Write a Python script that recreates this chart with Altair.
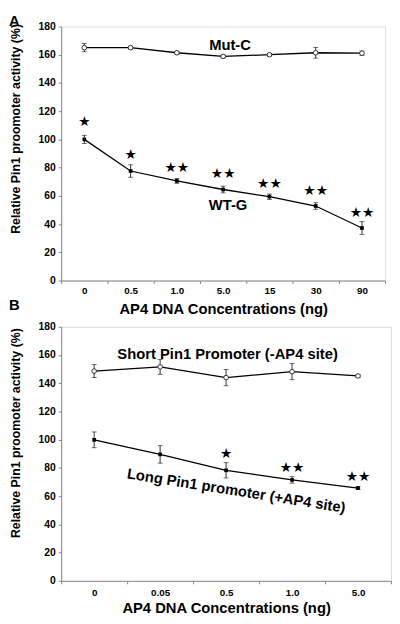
import altair as alt
import pandas as pd

# ---------------- Panel A data ----------------
conc_a = ["0", "0.5", "1.0", "5.0", "15", "30", "90"]
mutc = [165.0, 165.0, 161.4, 158.8, 160.0, 161.4, 161.1]
mutc_err = [2.9, 1.0, 1.0, 1.0, 1.0, 3.8, 1.5]
wtg = [100.0, 77.6, 70.6, 64.5, 59.4, 52.8, 37.2]
wtg_err = [2.9, 4.4, 1.7, 2.4, 1.9, 2.3, 4.5]
stars_a = ["★", "★", "★★", "★★", "★★", "★★", "★★"]
stars_a_y = [112.5, 89.0, 80.0, 75.3, 68.5, 63.7, 48.0]

# ---------------- Panel B data ----------------
conc_b = ["0", "0.05", "0.5", "1.0", "5.0"]
short_p = [148.6, 151.6, 144.0, 148.2, 145.2]
short_err = [4.6, 5.2, 5.8, 5.7, 1.0]
long_p = [99.9, 89.6, 78.3, 71.5, 65.7]
long_err = [5.6, 6.2, 5.4, 2.3, 1.0]
stars_b = ["★", "★★", "★★"]
stars_b_conc = ["0.5", "1.0", "5.0"]
stars_b_y = [89.5, 79.8, 73.5]

X_TITLE = "AP4 DNA Concentrations (ng)"
Y_TITLE = "Relative Pin1 proomoter activity (%)"
FONT = "Liberation Sans"


def series_df(conc, name, vals, errs):
    return pd.DataFrame({
        "conc": conc,
        "series": name,
        "value": vals,
        "lo": [v - e for v, e in zip(vals, errs)],
        "hi": [v + e for v, e in zip(vals, errs)],
    })


def panel(conc, top_df, bot_df, stars_df, labels_df, width, label_pad, title_pad, title_y, extra_letters):
    x = alt.X(
        "conc:N", sort=conc, bandPosition=0.5,
        scale=alt.Scale(type="band", paddingInner=0, paddingOuter=0),
        axis=alt.Axis(title=X_TITLE, labelAngle=0, tickBand="extent", tickSize=3,
                      labelPadding=label_pad, titlePadding=title_pad,
                      labelFontSize=10, labelFontWeight="bold", labelFont=FONT,
                      titleFontSize=15, titleFontWeight="bold", titleFont=FONT,
                      domainColor="#888", tickColor="#888", labelColor="black",
                      titleColor="black"),
    )
    yscale = alt.Scale(domain=[0, 180], nice=False, zero=True)
    yaxis = alt.Axis(title=Y_TITLE, values=list(range(0, 181, 20)), grid=False,
                     tickSize=3, labelPadding=3, titlePadding=16,
                     labelFontSize=10.5, labelFontWeight="bold", labelFont=FONT,
                     titleFontSize=12.5, titleFontWeight="bold", titleFont=FONT,
                     titleY=title_y, domainColor="#888", tickColor="#888",
                     labelColor="black", titleColor="black")
    both = pd.concat([top_df, bot_df])
    base = alt.Chart(both)
    line = base.mark_line(color="black", strokeWidth=1.3).encode(
        x=x, y=alt.Y("value:Q", scale=yscale, axis=yaxis), detail="series:N")
    rule = base.mark_rule(color="black", strokeWidth=0.8).encode(
        x=x, y=alt.Y("lo:Q", scale=yscale, axis=yaxis), y2="hi:Q")
    cap_lo = base.mark_tick(color="black", size=5, thickness=0.8).encode(
        x=x, y=alt.Y("lo:Q", scale=yscale, axis=yaxis))
    cap_hi = base.mark_tick(color="black", size=5, thickness=0.8).encode(
        x=x, y=alt.Y("hi:Q", scale=yscale, axis=yaxis))
    pts_open = alt.Chart(top_df).mark_point(
        shape="circle", fill="white", fillOpacity=1, stroke="#333", strokeWidth=1,
        size=22, opacity=1).encode(x=x, y=alt.Y("value:Q", scale=yscale, axis=yaxis))
    pts_fill = alt.Chart(bot_df).mark_point(
        shape="square", filled=True, color="black", size=14, opacity=1).encode(
        x=x, y=alt.Y("value:Q", scale=yscale, axis=yaxis))
    stars = alt.Chart(stars_df).mark_text(
        font="DejaVu Sans", fontSize=14, color="black", baseline="middle").encode(
        x=x, y=alt.Y("sy:Q", scale=yscale, axis=yaxis), text="s:N")
    layers = [line, rule, cap_lo, cap_hi, pts_open, pts_fill, stars]
    for _, r in labels_df.iterrows():
        d = pd.DataFrame({"conc": [r["conc"]], "ly": [r["ly"]], "t": [r["t"]]})
        layers.append(alt.Chart(d).mark_text(
            font=FONT, fontWeight="bold", fontSize=r["fs"], color="black",
            baseline="middle", align="center", dx=r["dx"], angle=r["angle"]).encode(
            x=x, y=alt.Y("ly:Q", scale=yscale, axis=yaxis), text="t:N"))
    for letter, ly in extra_letters:
        d = pd.DataFrame({"t": [letter]})
        layers.append(alt.Chart(d).mark_text(
            font=FONT, fontWeight="bold", fontSize=15, color="black",
            align="left", baseline="alphabetic").encode(
            x=alt.value(-53), y=alt.value(ly), text="t:N"))
    return alt.layer(*layers).properties(width=width, height=258)


# Panel A
a_top = series_df(conc_a, "Mut-C", mutc, mutc_err)
a_bot = series_df(conc_a, "WT-G", wtg, wtg_err)
a_stars = pd.DataFrame({"conc": conc_a, "s": stars_a, "sy": stars_a_y})
a_labels = pd.DataFrame({
    "conc": ["5.0", "5.0"], "ly": [167.0, 53.5], "t": ["Mut-C", "WT-G"],
    "fs": [15, 15], "dx": [7, 5], "angle": [0, 0]})
chart_a = panel(conc_a, a_top, a_bot, a_stars, a_labels, 329, 2, 6, 103.5,
                [("A", -1), ("B", 288)])

# Panel B
b_top = series_df(conc_b, "Short", short_p, short_err)
b_bot = series_df(conc_b, "Long", long_p, long_err)
b_stars = pd.DataFrame({"conc": stars_b_conc, "s": stars_b, "sy": stars_b_y})
b_labels = pd.DataFrame({
    "conc": ["0.5", "0.5"], "ly": [161.0, 65.0],
    "t": ["Short Pin1 Promoter (-AP4 site)", "Long Pin1 promoter (+AP4 site)"],
    "fs": [15, 15], "dx": [1.5, 10.5], "angle": [0, 9]})
chart_b = panel(conc_b, b_top, b_bot, b_stars, b_labels, 335, 4, 3, 107.5, [])

chart = alt.vconcat(chart_a, chart_b, spacing=4).resolve_scale(
    x="independent", y="independent").properties(padding=0).configure_view(
    stroke="#888", strokeWidth=1).configure(background="white")

chart.save("out.html", embed_options={"renderer": "svg", "actions": False})
